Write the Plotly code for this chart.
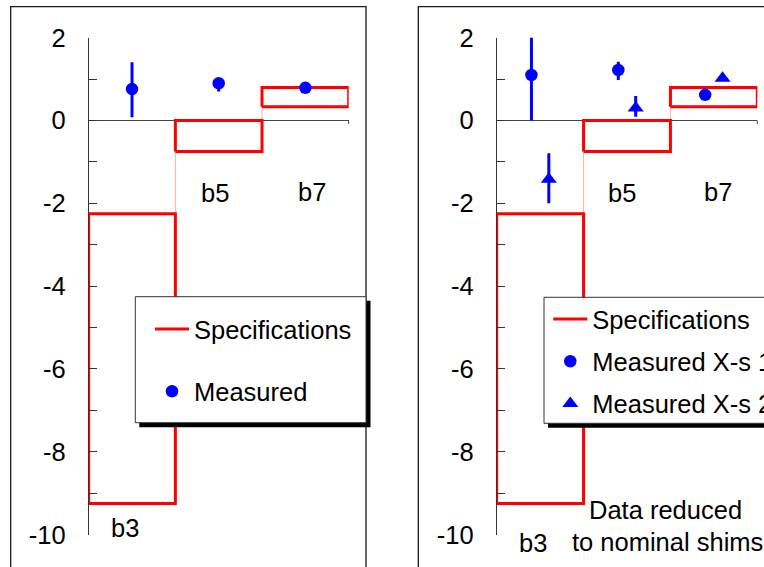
import plotly.graph_objects as go

# ---------------- data ----------------
categories = ["b3", "b5", "b7"]
bin_edges = [0, 1, 2, 3]
spec_low = [-9.25, -0.75, 0.33]
spec_high = [-2.25, 0.0, 0.80]

# left panel: measured
meas_x = [0.5, 1.5, 2.5]
meas_y = [0.76, 0.90, 0.79]
meas_err_plus = [0.65, 0.10, 0.0]
meas_err_minus = [0.68, 0.20, 0.0]

# right panel: two cross-sections
xs1_x = [0.4, 1.4, 2.4]
xs1_y = [1.10, 1.22, 0.62]
xs1_err_plus = [1.05, 0.20, 0.0]
xs1_err_minus = [1.10, 0.24, 0.0]

xs2_x = [0.6, 1.6, 2.6]
xs2_y = [-1.42, 0.30, 1.02]
xs2_err_plus = [0.63, 0.29, 0.0]
xs2_err_minus = [0.58, 0.21, 0.0]

ytick_vals = [-10, -9, -8, -7, -6, -5, -4, -3, -2, -1, 0, 1, 2]
ytick_text = ["-10", "", "-8", "", "-6", "", "-4", "", "-2", "", "0", "", "2"]

# ---------------- helpers ----------------
W, H = 764, 567
FONT = "Liberation Sans, Arial, sans-serif"
FS = 25.5
RED = "#ff0000"
BLUE = "#0000ff"


def px(x):
    return x / W


def py(y):
    return 1 - y / H


def spec_path():
    xs, ys = [], []
    for i in range(len(categories)):
        x0, x1 = bin_edges[i], bin_edges[i + 1]
        lo, hi = spec_low[i], spec_high[i]
        xs += [x0, x1, x1, x0, x0, None]
        ys += [lo, lo, hi, hi, lo, None]
    return xs, ys


def connector_path():
    xs, ys = [], []
    for i in range(len(categories) - 1):
        xe = bin_edges[i + 1]
        xs += [xe, xe, None]
        ys += [spec_high[i], spec_low[i + 1], None]
    return xs, ys


sx, sy = spec_path()
cx, cy = connector_path()

fig = go.Figure()

for xa, ya, leg in (("x", "y", "legend"), ("x2", "y2", "legend2")):
    fig.add_trace(go.Scatter(x=cx, y=cy, mode="lines", xaxis=xa, yaxis=ya,
                             line=dict(color="#ffb0b0", width=1),
                             showlegend=False, hoverinfo="skip"))
    fig.add_trace(go.Scatter(x=sx, y=sy, mode="lines", xaxis=xa, yaxis=ya,
                             name="Specifications", legend=leg,
                             legendgroup="spec" + xa,
                             line=dict(color=RED, width=3)))

fig.add_trace(go.Scatter(
    x=meas_x, y=meas_y, mode="markers", name="Measured", legend="legend",
    legendgroup="meas", xaxis="x", yaxis="y",
    marker=dict(symbol="circle", size=12.5, color=BLUE),
    error_y=dict(type="data", array=meas_err_plus, arrayminus=meas_err_minus,
                 color=BLUE, thickness=3, width=0)))

fig.add_trace(go.Scatter(
    x=xs1_x, y=xs1_y, mode="markers", name="Measured X-s 1", legend="legend2",
    legendgroup="xs1", xaxis="x2", yaxis="y2",
    marker=dict(symbol="circle", size=12.5, color=BLUE),
    error_y=dict(type="data", array=xs1_err_plus, arrayminus=xs1_err_minus,
                 color=BLUE, thickness=3, width=0)))

fig.add_trace(go.Scatter(
    x=xs2_x, y=xs2_y, mode="markers", name="Measured X-s 2", legend="legend2",
    legendgroup="xs2", xaxis="x2", yaxis="y2",
    marker=dict(symbol="triangle-up", size=14, color=BLUE),
    error_y=dict(type="data", array=xs2_err_plus, arrayminus=xs2_err_minus,
                 color=BLUE, thickness=3, width=0)))

ydom = [py(534.6), py(37.7)]
yax = dict(range=[-10, 2], domain=ydom, showgrid=False, showline=True,
           linecolor="#333333", linewidth=1, ticks="inside", ticklen=8,
           tickcolor="#333333", tickwidth=1, tickvals=ytick_vals,
           ticktext=ytick_text, tickfont=dict(size=FS, color="black", family=FONT),
           zeroline=True, zerolinecolor="#444444", zerolinewidth=1,
           ticklabelstandoff=17, automargin=False, fixedrange=True)
xax = dict(range=[0, 3], visible=False, showgrid=False, zeroline=False,
           automargin=False, fixedrange=True)

fig.update_layout(
    width=W, height=H, autosize=False,
    margin=dict(l=0, r=0, t=0, b=0, pad=0, autoexpand=False),
    paper_bgcolor="white", plot_bgcolor="rgba(0,0,0,0)",
    font=dict(family=FONT, size=FS, color="black"),
    xaxis=dict(xax, domain=[px(88.7), px(348.7)]),
    yaxis=dict(yax, anchor="x"),
    xaxis2=dict(xax, domain=[px(496.7), px(757.3)], anchor="y2"),
    yaxis2=dict(yax, anchor="x2"),
    showlegend=True,
    legend=dict(x=px(150), y=py(306), xanchor="left", yanchor="top",
                bgcolor="rgba(0,0,0,0)", borderwidth=0, itemwidth=34,
                font=dict(size=FS, family=FONT, color="black"),
                traceorder="grouped", tracegroupgap=26),
    legend2=dict(x=px(548.3), y=py(296), xanchor="left", yanchor="top",
                 bgcolor="rgba(0,0,0,0)", borderwidth=0, itemwidth=34,
                 font=dict(size=FS, family=FONT, color="black"),
                 traceorder="grouped", tracegroupgap=6),
)

shapes = []
# outer frames
shapes.append(dict(type="rect", xref="paper", yref="paper", x0=px(10.7), x1=px(366),
                   y0=py(620), y1=py(6.7), line=dict(color="#1a1a1a", width=1.3),
                   fillcolor="rgba(0,0,0,0)", layer="below"))
shapes.append(dict(type="rect", xref="paper", yref="paper", x0=px(418.3), x1=px(820),
                   y0=py(620), y1=py(6.7), line=dict(color="#1a1a1a", width=1.3),
                   fillcolor="rgba(0,0,0,0)", layer="below"))
# small tick at the right end of each zero line
for xr in (348.7, 757.3):
    shapes.append(dict(type="line", xref="paper", yref="paper", x0=px(xr), x1=px(xr),
                       y0=py(120.5), y1=py(124), line=dict(color="#444444", width=1)))
# legend boxes with shadows
for (l, t, r, b) in ((135.3, 296.7, 366, 422.7), (544, 297.3, 800, 423.3)):
    shapes.append(dict(type="rect", xref="paper", yref="paper", x0=px(l + 4), x1=px(r + 4.5),
                       y0=py(b + 4.5), y1=py(t + 4), line=dict(width=0),
                       fillcolor="black", layer="above"))
    shapes.append(dict(type="rect", xref="paper", yref="paper", x0=px(l), x1=px(r),
                       y0=py(b), y1=py(t), line=dict(color="#333333", width=1),
                       fillcolor="white", layer="above"))
fig.update_layout(shapes=shapes)

ann = []
# category labels (pixel positions of the reference layout)
label_px_left = [(124.7, 528.3), (214.5, 192.7), (311.7, 191.7)]
label_px_right = [(532.5, 543.3), (621.7, 193.3), (717.5, 191.7)]
for (lx, ly), name in zip(label_px_left + label_px_right, categories + categories):
    ann.append(dict(x=px(lx), y=py(ly), xref="paper", yref="paper", text=name,
                    showarrow=False, xanchor="center", yanchor="middle",
                    font=dict(size=FS)))
ann.append(dict(x=px(665), y=py(510), xref="paper", yref="paper", text="Data reduced",
                showarrow=False, xanchor="center", yanchor="middle", font=dict(size=FS)))
ann.append(dict(x=px(667.5), y=py(541.7), xref="paper", yref="paper",
                text="to nominal shims", showarrow=False, xanchor="center",
                yanchor="middle", font=dict(size=FS)))
fig.update_layout(annotations=ann)

fig.write_html("out.html")
